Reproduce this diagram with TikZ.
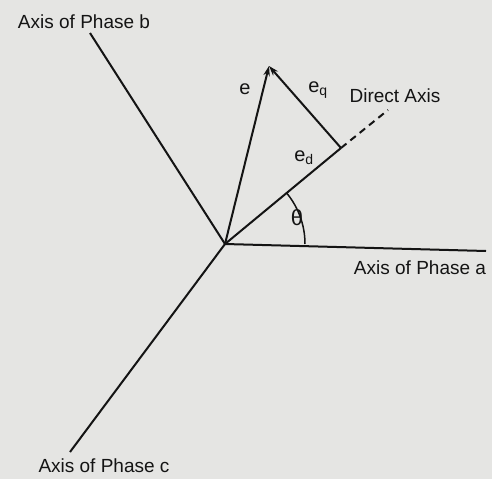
\documentclass[tikz,border=0pt]{standalone}
\usepackage{fontspec}
\setmainfont{Liberation Sans}
\usetikzlibrary{arrows.meta,calc}
\definecolor{bg}{RGB}{229,229,227}
\definecolor{ink}{RGB}{20,20,20}
\begin{document}
\begin{tikzpicture}[x=1pt,y=-1pt,
  axisline/.style={draw=ink,line width=2pt},
  lbl/.style={text=ink,inner sep=0pt,font=\fontsize{19}{21}\selectfont},
  vec/.style={draw=ink,line width=2pt,-{Stealth[length=10pt,width=6.5pt]}}]
\fill[bg] (0,0) rectangle (492,479);
\useasboundingbox (0,0) rectangle (492,479);
\coordinate (O) at (225,244);
\coordinate (A) at (486,251);
\coordinate (B) at (90,33);
\coordinate (C) at (70,452);
\coordinate (D) at (341,148);
\coordinate (Dend) at (388,110);
\coordinate (E) at (269,66);
\draw[axisline] (O) -- (A);
\draw[axisline] (O) -- (B);
\draw[axisline] (O) -- (C);
\draw[axisline] (O) -- (D);
\draw[axisline,dashed,dash pattern=on 7pt off 5pt] (D) -- (Dend);
\draw[vec] (O) -- (E);
\draw[vec] (D) -- (E);
\draw[draw=ink,line width=1.5pt] ($(O)+(80,0)$) arc[start angle=0,end angle=-39.5,radius=80];
\node[lbl] (lb) at (84,22) {Axis of Phase b};
\node[lbl] (lc) at (104,466) {Axis of Phase c};
\node[lbl] (la) at (420,268) {Axis of Phase a};
\node[lbl] (ld) at (395,96) {Direct Axis};
\node[lbl,font=\fontsize{20}{22}\selectfont] (le) at (245,89) {e};
\node[lbl,font=\fontsize{20}{22}\selectfont] (leq) at (318,90) {e\textsubscript{q}};
\node[lbl,font=\fontsize{20}{22}\selectfont] (led) at (304,158) {e\textsubscript{d}};
\node[lbl,font=\fontsize{22}{24}\selectfont] (lt) at (297,218) {θ};
\end{tikzpicture}
\end{document}
